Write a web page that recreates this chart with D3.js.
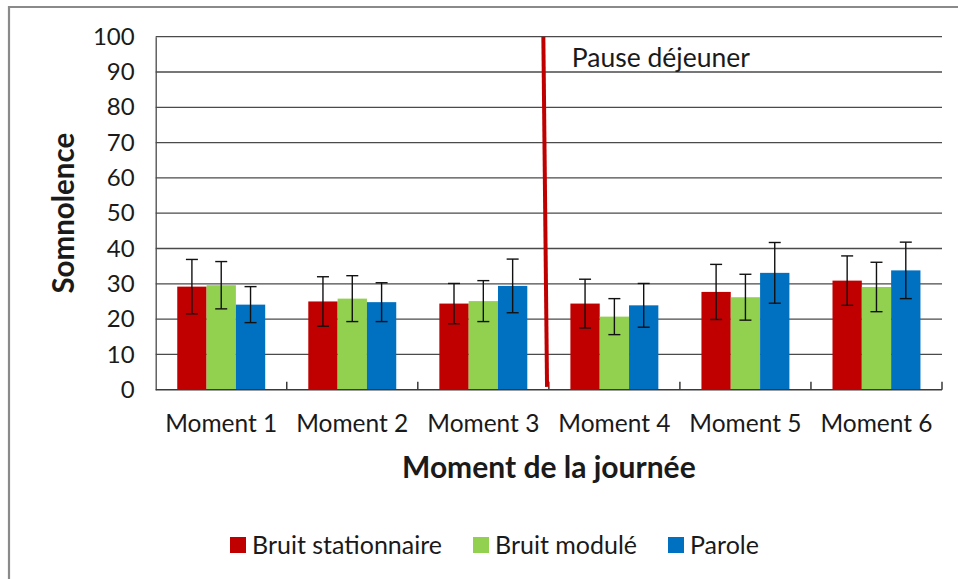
<!DOCTYPE html>
<html>
<head>
<meta charset="utf-8">
<script src="https://cdn.jsdelivr.net/npm/d3@7"></script>
<style>
  html, body { margin: 0; padding: 0; background: #fff; }
  svg { display: block; }
  text { font-family: Lato, "Open Sans", sans-serif; fill: #1a1a1a; }
</style>
</head>
<body>
<svg id="chart" width="958" height="579"></svg>
<script>
// Categories and series
const moments = ["Moment 1", "Moment 2", "Moment 3", "Moment 4", "Moment 5", "Moment 6"];
const seriesNames = ["Bruit stationnaire", "Bruit modulé", "Parole"];
const seriesColors = ["#C00000", "#92D050", "#0070C0"];

// Mean drowsiness score per moment, one array per condition
const stationnaire = [29.2, 25.0, 24.4, 24.4, 27.7, 30.9];
const module_ = [29.6, 25.8, 25.1, 20.7, 26.2, 29.1];
const parole = [24.1, 24.8, 29.4, 23.9, 33.1, 33.8];

// Error bar half-widths
const errStationnaire = [7.7, 7.0, 5.7, 6.9, 7.8, 7.0];
const errModule = [6.7, 6.5, 5.8, 5.1, 6.5, 7.0];
const errParole = [5.1, 5.5, 7.6, 6.2, 8.6, 8.0];

const yTicks = [0, 10, 20, 30, 40, 50, 60, 70, 80, 90, 100];
const pauseLabel = "Pause déjeuner";
const pauseAfter = "Moment 3"; // lunch break falls between moment 3 and moment 4

const values = [stationnaire, module_, parole];
const errors = [errStationnaire, errModule, errParole];

const svg = d3.select("#chart");

// Outer frame (top and left edges visible)
svg.append("path")
  .attr("d", "M9,579 L9,7 L958,7")
  .attr("fill", "none")
  .attr("stroke", "#8a8a8a")
  .attr("stroke-width", 2.2);

const plot = { left: 155.7, right: 942, top: 36.7, bottom: 389.7 };

const x = d3.scaleBand().domain(moments).range([plot.left, plot.right]).paddingInner(0).paddingOuter(0);
const xInner = d3.scaleBand().domain(seriesNames).range([0, x.bandwidth()]).paddingInner(0).paddingOuter(0.735);
const y = d3.scaleLinear().domain([0, 100]).range([plot.bottom, plot.top]);

// Horizontal gridlines
svg.append("g")
  .selectAll("line")
  .data(yTicks.filter(d => d > 0))
  .join("line")
  .attr("x1", plot.left).attr("x2", plot.right)
  .attr("y1", d => y(d)).attr("y2", d => y(d))
  .attr("stroke", "#4a4a4a")
  .attr("stroke-width", 1.3);

// Y axis
const yAxis = svg.append("g")
  .attr("transform", `translate(${plot.left},0)`)
  .call(d3.axisLeft(y).tickValues(yTicks).tickSize(0).tickPadding(21));
yAxis.select(".domain").attr("stroke", "#4a4a4a").attr("stroke-width", 1.3);
yAxis.selectAll("text").style("font-size", "24px").style("font-family", "Lato, sans-serif").attr("fill", "#1a1a1a");

// Bars
const groups = svg.append("g")
  .selectAll("g")
  .data(moments)
  .join("g")
  .attr("transform", d => `translate(${x(d)},0)`);

seriesNames.forEach((s, si) => {
  groups.append("rect")
    .attr("x", xInner(s))
    .attr("width", xInner.bandwidth())
    .attr("y", (d, i) => y(values[si][i]))
    .attr("height", (d, i) => y(0) - y(values[si][i]))
    .attr("fill", seriesColors[si]);
});

// Error bars
seriesNames.forEach((s, si) => {
  const cx = xInner(s) + xInner.bandwidth() / 2;
  const eb = groups.append("g").attr("stroke", "#111").attr("stroke-width", 1.4);
  eb.append("line")
    .attr("x1", cx).attr("x2", cx)
    .attr("y1", (d, i) => y(values[si][i] + errors[si][i]))
    .attr("y2", (d, i) => y(values[si][i] - errors[si][i]));
  eb.append("line")
    .attr("x1", cx - 6).attr("x2", cx + 6)
    .attr("y1", (d, i) => y(values[si][i] + errors[si][i]))
    .attr("y2", (d, i) => y(values[si][i] + errors[si][i]));
  eb.append("line")
    .attr("x1", cx - 6).attr("x2", cx + 6)
    .attr("y1", (d, i) => y(values[si][i] - errors[si][i]))
    .attr("y2", (d, i) => y(values[si][i] - errors[si][i]));
});

// X axis
const xAxis = svg.append("g")
  .attr("transform", `translate(0,${plot.bottom})`)
  .call(d3.axisBottom(x).tickSize(0).tickPadding(25));
xAxis.select(".domain").remove();
xAxis.selectAll("text").style("font-size", "24.5px").style("font-family", "Lato, sans-serif").attr("fill", "#1a1a1a");
svg.append("line")
  .attr("x1", plot.left).attr("x2", plot.right)
  .attr("y1", plot.bottom).attr("y2", plot.bottom)
  .attr("stroke", "#3a3a3a").attr("stroke-width", 1.5);
// Tick marks at category boundaries
svg.append("g")
  .selectAll("line")
  .data(moments.slice(1).concat(["end"]))
  .join("line")
  .attr("x1", d => d === "end" ? plot.right : x(d))
  .attr("x2", d => d === "end" ? plot.right : x(d))
  .attr("y1", plot.bottom).attr("y2", plot.bottom - 8)
  .attr("stroke", "#3a3a3a").attr("stroke-width", 1.5);

// Lunch break marker
const pauseX = x(pauseAfter) + x.bandwidth();
svg.append("line")
  .attr("x1", pauseX - 5.5).attr("y1", y(100))
  .attr("x2", pauseX - 1.8).attr("y2", y(0.8))
  .attr("stroke", "#C00000")
  .attr("stroke-width", 4);
svg.append("text")
  .attr("x", pauseX + 23)
  .attr("y", 67)
  .style("font-size", "26.5px")
  .text(pauseLabel);

// Axis titles
svg.append("text")
  .attr("x", (plot.left + plot.right) / 2)
  .attr("y", 478)
  .attr("text-anchor", "middle")
  .style("font-size", "30px")
  .style("font-weight", "bold")
  .text("Moment de la journée");

svg.append("text")
  .attr("transform", `translate(74,${(plot.top + plot.bottom) / 2}) rotate(-90)`)
  .attr("text-anchor", "middle")
  .style("font-size", "29.5px")
  .style("font-weight", "bold")
  .text("Somnolence");

// Legend
const legendX = [230, 473, 668];
const legend = svg.append("g")
  .selectAll("g")
  .data(seriesNames)
  .join("g")
  .attr("transform", (d, i) => `translate(${legendX[i]},537)`);
legend.append("rect")
  .attr("width", 16).attr("height", 16)
  .attr("fill", (d, i) => seriesColors[i]);
legend.append("text")
  .attr("x", 22).attr("y", 17)
  .style("font-size", "25px")
  .text(d => d);
</script>
</body>
</html>
